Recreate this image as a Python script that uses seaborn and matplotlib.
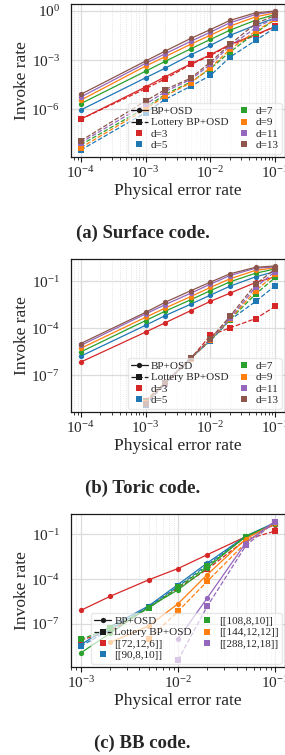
import matplotlib
matplotlib.use("Agg")
import matplotlib.pyplot as plt
import matplotlib.ticker as mticker
from matplotlib.lines import Line2D
import pandas as pd
import seaborn as sns

sns.set_theme(style="whitegrid")
plt.rcParams["font.family"] = ["Liberation Serif", "DejaVu Serif"]
plt.rcParams["mathtext.fontset"] = "stix"

DECODERS = ["BP+OSD", "Lottery BP+OSD"]

# ---- surface code ----
p_surface = [1e-4, 1e-3, 2e-3, 5e-3, 1e-2, 2e-2, 5e-2, 1e-1]
surface_labels = ["d=3", "d=5", "d=7", "d=9", "d=11", "d=13"]
surface_bp_d3 = [2.5e-7, 2.3e-5, 9.5e-5, 5.9e-4, 2.1e-3, 8.9e-3, 3.6e-2, 0.107]
surface_bp_d5 = [9.1e-7, 8.3e-5, 3.2e-4, 2.1e-3, 7.8e-3, 3.2e-2, 0.135, 0.37]
surface_bp_d7 = [2.2e-6, 2.1e-4, 8.3e-4, 4.9e-3, 1.8e-2, 6.6e-2, 0.27, 0.60]
surface_bp_d9 = [3.6e-6, 4.3e-4, 1.6e-3, 9.3e-3, 3.3e-2, 0.117, 0.43, 0.76]
surface_bp_d11 = [5.6e-6, 6.3e-4, 2.4e-3, 1.4e-2, 5.0e-2, 0.186, 0.60, 0.91]
surface_bp_d13 = [8.1e-6, 8.7e-4, 3.5e-3, 2.1e-2, 7.2e-2, 0.26, 0.76, 0.98]
surface_lot_d3 = [2.5e-7, 1.8e-5, 7.2e-5, 5.4e-4, 1.9e-3, 8.1e-3, 3.2e-2, 0.117]
surface_lot_d5 = [3.3e-9, 6.3e-7, 4.0e-6, 2.6e-5, 1.15e-4, 1.5e-3, 1.6e-2, 9.3e-2]
surface_lot_d7 = [6.8e-9, 1.26e-6, 8.1e-6, 4.6e-5, 3.0e-4, 3.1e-3, 4.6e-2, 0.30]
surface_lot_d9 = [4.6e-9, 1.0e-6, 6.5e-6, 4.2e-5, 3.4e-4, 4.5e-3, 5.8e-2, 0.30]
surface_lot_d11 = [9.3e-9, 2.0e-6, 1.2e-5, 6.6e-5, 5.4e-4, 7.1e-3, 9.3e-2, 0.37]
surface_lot_d13 = [1.2e-8, 3.2e-6, 1.6e-5, 7.9e-5, 7.6e-4, 8.9e-3, 0.17, 0.52]

# ---- toric code ----
p_toric = [1e-4, 1e-3, 2e-3, 5e-3, 1e-2, 2e-2, 5e-2, 1e-1]
p_toric_lot = [1e-3, 2e-3, 5e-3, 1e-2, 2e-2, 5e-2, 1e-1]
toric_bp_d3 = [7.2e-7, 5.9e-5, 2.3e-4, 1.4e-3, 5.4e-3, 1.8e-2, 8.7e-2, 0.20]
toric_bp_d5 = [1.7e-6, 1.6e-4, 6.6e-4, 3.6e-3, 1.35e-2, 5.0e-2, 0.20, 0.43]
toric_bp_d7 = [3.2e-6, 3.2e-4, 1.26e-3, 6.9e-3, 2.6e-2, 9.5e-2, 0.34, 0.63]
toric_bp_d9 = [5.4e-6, 5.2e-4, 2.0e-3, 1.1e-2, 4.2e-2, 0.148, 0.52, 0.74]
toric_bp_d11 = [8.3e-6, 8.5e-4, 3.3e-3, 1.8e-2, 6.8e-2, 0.24, 0.71, 0.85]
toric_bp_d13 = [1.1e-5, 1.07e-3, 4.7e-3, 2.6e-2, 9.1e-2, 0.31, 0.81, 0.98]
toric_lot_d3 = [2.5e-9, 3.5e-8, 1.26e-6, 3.6e-5, 1.1e-4, 4.3e-4, 2.6e-3]
toric_lot_d5 = [1.3e-9, 3.2e-8, 1.4e-6, 1.6e-5, 3.5e-4, 5.4e-3, 5.4e-2]
toric_lot_d7 = [2.0e-9, 3.5e-8, 1.26e-6, 1.8e-5, 3.7e-4, 1.6e-2, 0.18]
toric_lot_d9 = [1.8e-9, 3.2e-8, 1.2e-6, 1.9e-5, 4.0e-4, 2.6e-2, 0.29]
toric_lot_d11 = [1.6e-9, 2.8e-8, 1.26e-6, 2.0e-5, 4.5e-4, 4.4e-2, 0.43]
toric_lot_d13 = [1.6e-9, 3.2e-8, 1.3e-6, 2.2e-5, 6.0e-4, 6.8e-2, 0.63]

# ---- BB code (None = no point) ----
p_bb = [1e-3, 2e-3, 5e-3, 1e-2, 2e-2, 5e-2, 1e-1]
bb_labels = ["[[72,12,6]]", "[[90,8,10]]", "[[108,8,10]]", "[[144,12,12]]", "[[288,12,18]]"]
bb_bp_72 = [7.9e-7, 6.9e-6, 8.9e-5, 5.1e-4, 4.3e-3, 7.1e-2, 0.45]
bb_bp_90 = [4.0e-9, 6.3e-8, 1.6e-6, 4.3e-5, 1.2e-3, 7.8e-2, 0.62]
bb_bp_108 = [1.1e-9, 2.3e-8, 1.3e-6, 1.9e-5, 5.6e-4, 7.8e-2, 0.50]
bb_bp_144 = [None, 5.6e-9, 7.2e-8, 2.2e-6, 2.0e-4, 5.1e-2, 0.56]
bb_bp_288 = [None, None, None, 9.3e-9, 5.4e-6, 2.8e-2, 0.79]
bb_lot_72 = [7.9e-9, 3.2e-8, 1.26e-6, 2.5e-5, 4.5e-4, 4.5e-2, 0.166]
bb_lot_90 = [3.2e-9, 4.0e-8, 1.4e-6, 3.2e-5, 8.9e-4, 7.1e-2, 0.56]
bb_lot_108 = [8.9e-9, 5.0e-8, 1.1e-6, 2.8e-5, 7.1e-4, 7.1e-2, 0.56]
bb_lot_144 = [None, None, 9.3e-9, 6.8e-7, 7.1e-5, 2.8e-2, 0.63]
bb_lot_288 = [None, None, None, 3.7e-10, 1.5e-6, 1.8e-2, 0.71]

colors = ["#d62728", "#1f77b4", "#2ca02c", "#ff7f0e", "#9467bd", "#8c564b"]


def to_frame(x, labels, bp_rows, lot_rows, x_lot=None):
    x_lot = x if x_lot is None else x_lot
    recs = []
    for lab, bp, lot in zip(labels, bp_rows, lot_rows):
        for xv, yv in zip(x, bp):
            if yv is not None:
                recs.append((xv, yv, lab, DECODERS[0]))
        for xv, yv in zip(x_lot, lot):
            if yv is not None:
                recs.append((xv, yv, lab, DECODERS[1]))
    return pd.DataFrame(recs, columns=["p", "rate", "code", "decoder"])


def draw_panel(ax, df, labels, yticks):
    sns.lineplot(
        data=df, x="p", y="rate", hue="code", style="decoder",
        hue_order=labels, palette=colors[:len(labels)], style_order=DECODERS,
        markers={DECODERS[0]: "o", DECODERS[1]: "s"},
        dashes={DECODERS[0]: "", DECODERS[1]: (3.7, 1.6)},
        estimator=None, sort=True, legend=False, ax=ax,
        linewidth=0.9, markersize=3.8, markeredgewidth=0,
    )
    ax.set_xscale("log")
    ax.set_yscale("log")
    ax.yaxis.set_major_locator(mticker.FixedLocator(yticks))
    ax.yaxis.set_minor_locator(mticker.NullLocator())
    ax.grid(which="major", color="#dcdcdc", linewidth=0.9)
    ax.grid(which="minor", axis="x", color="#dcdcdc", linewidth=0.6, linestyle=":")
    ax.tick_params(axis="x", which="major", bottom=True, length=3.5, width=0.8,
                   direction="out", color="k", labelsize=11, pad=2)
    ax.tick_params(axis="x", which="minor", bottom=True, length=2, width=0.6,
                   direction="out", color="k")
    ax.tick_params(axis="y", labelsize=11, pad=2)
    for s in ax.spines.values():
        s.set_color("k")
        s.set_linewidth(0.9)
    ax.set_xlabel("Physical error rate", fontsize=12.5, labelpad=2)
    ax.set_ylabel("Invoke rate", fontsize=12.5, labelpad=1)

    handles = [
        Line2D([], [], color="k", marker="o", ms=3.8, lw=0.9, mew=0, label=DECODERS[0]),
        Line2D([], [], color="k", marker="s", ms=3.8, lw=0.9, mew=0, ls="--", label=DECODERS[1]),
    ]
    handles += [Line2D([], [], color=c, marker="s", ms=4, ls="none", mew=0, label=l)
                for c, l in zip(colors, labels)]
    ax.legend(handles=handles, ncol=2, loc="lower right", fontsize=8,
              handlelength=1.5, handletextpad=0.3, columnspacing=0.6,
              labelspacing=0.15, borderpad=0.3, borderaxespad=0.3,
              framealpha=0.65, edgecolor="#dddddd")


surface_df = to_frame(
    p_surface, surface_labels,
    [surface_bp_d3, surface_bp_d5, surface_bp_d7, surface_bp_d9, surface_bp_d11, surface_bp_d13],
    [surface_lot_d3, surface_lot_d5, surface_lot_d7, surface_lot_d9, surface_lot_d11, surface_lot_d13],
)
toric_df = to_frame(
    p_toric, surface_labels,
    [toric_bp_d3, toric_bp_d5, toric_bp_d7, toric_bp_d9, toric_bp_d11, toric_bp_d13],
    [toric_lot_d3, toric_lot_d5, toric_lot_d7, toric_lot_d9, toric_lot_d11, toric_lot_d13],
    x_lot=p_toric_lot,
)
bb_df = to_frame(
    p_bb, bb_labels,
    [bb_bp_72, bb_bp_90, bb_bp_108, bb_bp_144, bb_bp_288],
    [bb_lot_72, bb_lot_90, bb_lot_108, bb_lot_144, bb_lot_288],
)

fig = plt.figure(figsize=(2.85, 7.55), dpi=100)
W, H = 285, 755
panels = [
    (surface_df, surface_labels, [1e0, 1e-3, 1e-6], 4, "(a) Surface code.", 233),
    (toric_df, surface_labels, [1e-1, 1e-4, 1e-7], 259, "(b) Toric code.", 488),
    (bb_df, bb_labels, [1e-1, 1e-4, 1e-7], 514, "(c) BB code.", 743),
]
for df, labels, yticks, top, caption, cap_y in panels:
    ax = fig.add_axes([71 / W, 1 - (top + 153) / H, 214 / W, 153 / H])
    draw_panel(ax, df, labels, yticks)
    fig.text(0.5, 1 - cap_y / H, caption, ha="center", va="center",
             fontsize=13.5, fontweight="bold")

fig.savefig("out.png", dpi=100)
plt.close(fig)
